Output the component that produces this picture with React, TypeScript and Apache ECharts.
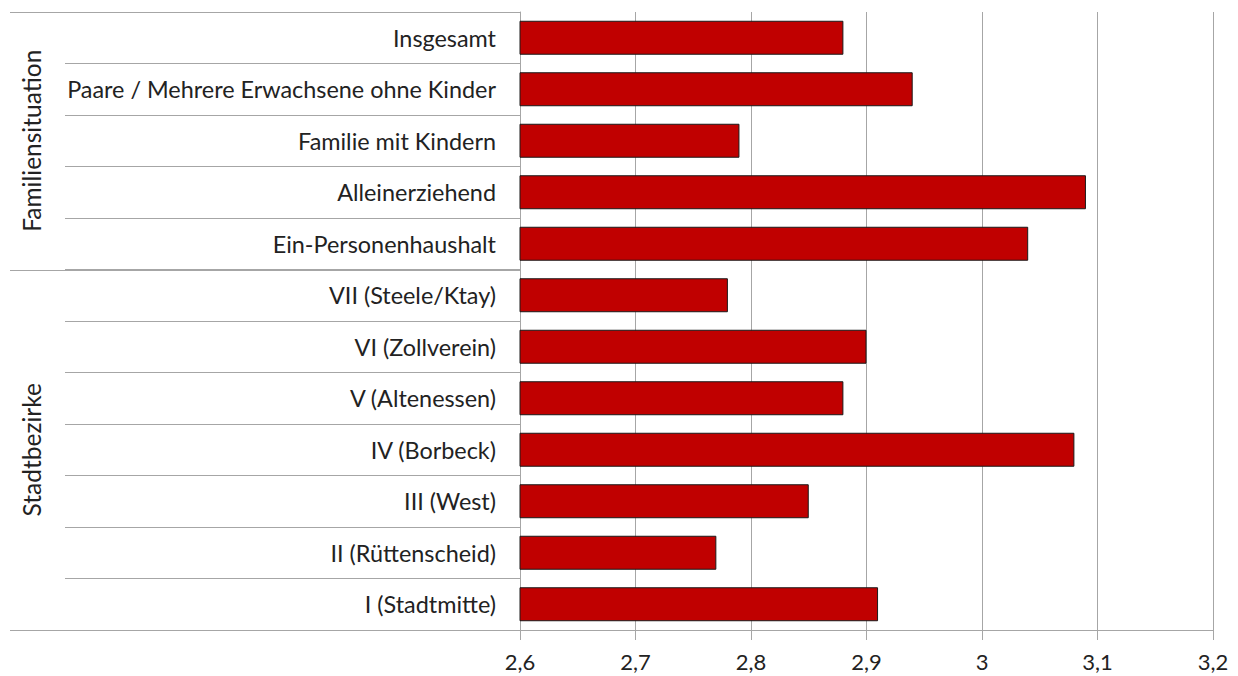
import React, { useEffect, useRef } from "react";
import * as echarts from "echarts";

const categories = [
  "Insgesamt",
  "Paare / Mehrere Erwachsene ohne Kinder",
  "Familie mit Kindern",
  "Alleinerziehend",
  "Ein-Personenhaushalt",
  "VII (Steele/Ktay)",
  "VI (Zollverein)",
  "V (Altenessen)",
  "IV (Borbeck)",
  "III (West)",
  "II (Rüttenscheid)",
  "I (Stadtmitte)",
];
const values = [2.88, 2.94, 2.79, 3.09, 3.04, 2.78, 2.9, 2.88, 3.08, 2.85, 2.77, 2.91];
const groupNames = ["Familiensituation", "Stadtbezirke"];
const groupSizes = [5, 7];
const xMin = 2.6;
const xMax = 3.2;
const xInterval = 0.1;

const FONT = "Lato";
const LINE = "#a6a6a6";
const TEXT = "#222222";

export default function App() {
  const ref = useRef<HTMLDivElement>(null);
  useEffect(() => {
    if (!ref.current) return;
    const chart = echarts.init(ref.current, undefined, { renderer: "svg" });
    chart.setOption({
      animation: false,
      backgroundColor: "#ffffff",
      textStyle: { fontFamily: FONT },
      grid: { left: 520, right: 25, top: 12, bottom: 46, containLabel: false },
      xAxis: {
        type: "value",
        min: xMin,
        max: xMax,
        interval: xInterval,
        axisLine: { show: true, lineStyle: { color: LINE, width: 1 } },
        axisTick: { show: true, length: 10, lineStyle: { color: LINE } },
        splitLine: { show: true, lineStyle: { color: LINE, width: 1 } },
        axisLabel: {
          fontFamily: FONT,
          fontSize: 22,
          color: TEXT,
          margin: 20,
          formatter: (v: number) => String(Number(v.toFixed(2))).replace(".", ","),
        },
      },
      yAxis: {
        type: "category",
        inverse: true,
        data: categories,
        axisLine: { show: true, lineStyle: { color: LINE, width: 1 } },
        axisTick: { show: true, length: 455, lineStyle: { color: LINE, width: 1 } },
        axisLabel: { fontFamily: FONT, fontSize: 23.4, color: TEXT, margin: 24, interval: 0 },
      },
      series: [
        {
          type: "bar",
          data: values,
          barWidth: "66%",
          itemStyle: { color: "#c00000", borderColor: "#1a1a1a", borderWidth: 1 },
        },
      ],
    });

    const c0 = chart.convertToPixel({ yAxisIndex: 0 }, categories[0]) as number;
    const c1 = chart.convertToPixel({ yAxisIndex: 0 }, categories[1]) as number;
    const band = c1 - c0;
    const yb = (k: number) => c0 - band / 2 + k * band;
    const xAxisStart = chart.convertToPixel({ xAxisIndex: 0 }, xMin) as number;
    const leftX = 10;
    const graphics: any[] = [];
    let start = 0;
    const bounds = [0];
    groupNames.forEach((name, gi) => {
      const end = start + groupSizes[gi];
      bounds.push(end);
      const yc = (yb(start) + yb(end)) / 2;
      graphics.push({
        type: "text",
        x: 31,
        y: yc,
        rotation: Math.PI / 2,
        style: {
          text: name,
          fontFamily: FONT,
          fontSize: 24.5,
          fill: TEXT,
          textAlign: "center",
          textVerticalAlign: "middle",
        },
      });
      start = end;
    });
    bounds.forEach((k) => {
      const y = Math.round(yb(k)) + 0.5;
      graphics.push({
        type: "line",
        shape: { x1: leftX, y1: y, x2: xAxisStart, y2: y },
        style: { stroke: LINE, lineWidth: 1 },
      });
    });
    chart.setOption({ graphic: graphics });

    return () => chart.dispose();
  }, []);
  return (
    <div
      ref={ref}
      style={{ position: "fixed", left: 0, top: 0, width: 1238, height: 676, background: "#fff" }}
    />
  );
}
